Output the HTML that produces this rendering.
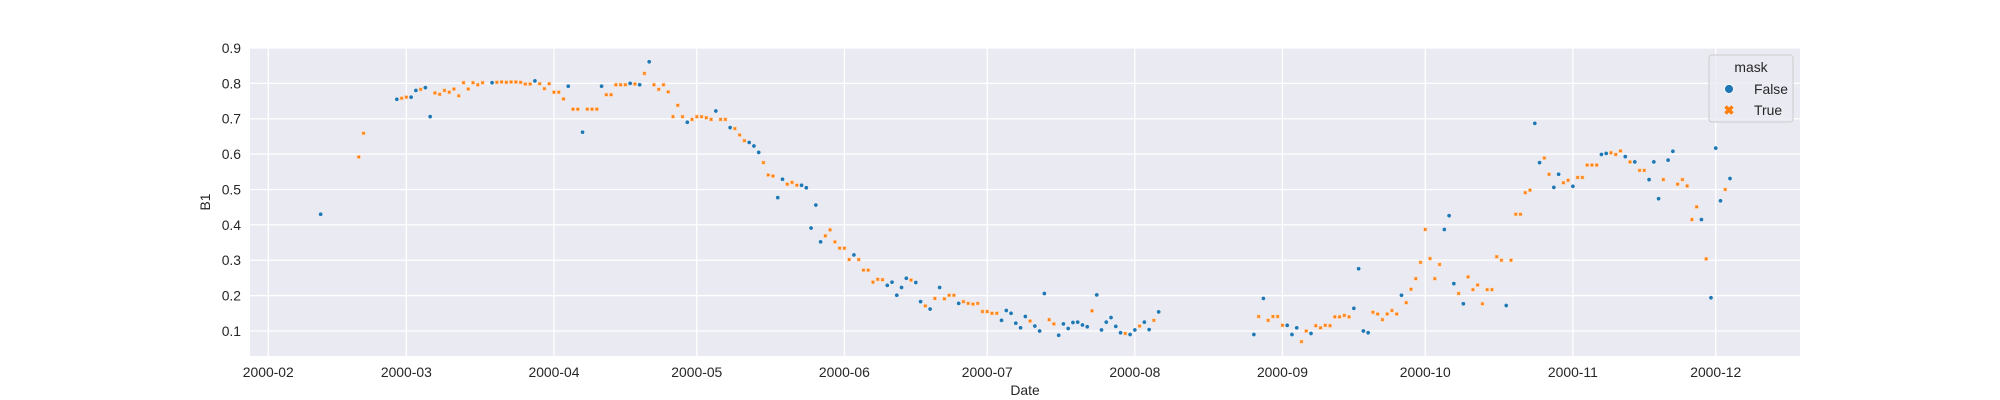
<!DOCTYPE html>
<html><head><meta charset="utf-8"><style>
html,body{margin:0;padding:0;background:#fff;}
svg{display:block;font-family:"Liberation Sans",Arial,sans-serif;}
</style></head><body>
<svg id="chart" width="2000" height="400" viewBox="0 0 2000 400" xmlns="http://www.w3.org/2000/svg"></svg>
<script>
const days=[11,19,20,27,28,29,30,31,32,33,34,35,36,37,38,39,40,41,42,43,44,45,47,48,49,50,51,52,53,54,55,56,57,58,59,60,61,62,63,64,65,66,67,68,69,70,71,72,73,74,75,76,77,78,79,80,81,82,83,84,85,86,87,88,89,90,91,92,93,94,95,96,97,98,99,100,101,102,103,104,105,106,107,108,109,110,111,112,113,114,115,116,117,118,119,120,121,122,123,124,125,126,127,128,129,130,131,132,133,134,135,136,137,138,139,140,141,142,143,144,145,146,147,148,149,150,151,152,153,154,155,156,157,158,159,160,161,162,163,164,165,166,167,168,169,170,171,172,173,174,175,176,177,178,179,180,181,182,183,184,185,186,187,207,208,209,210,211,212,213,214,215,216,217,218,219,220,221,222,223,224,225,226,227,228,229,230,231,232,233,234,235,236,237,238,239,240,241,242,243,244,245,246,247,248,249,250,251,252,253,254,255,256,257,258,259,260,261,262,263,264,265,266,267,268,269,270,271,272,273,274,275,276,277,278,279,280,281,282,283,284,285,286,287,288,289,290,291,292,293,294,295,296,297,298,299,300,301,302,303,304,305,306,307];
const values=[0.43,0.592,0.659,0.755,0.758,0.761,0.761,0.78,0.783,0.788,0.706,0.773,0.769,0.78,0.775,0.784,0.765,0.802,0.784,0.802,0.796,0.802,0.802,0.803,0.804,0.803,0.804,0.804,0.803,0.798,0.798,0.807,0.799,0.785,0.799,0.775,0.775,0.756,0.792,0.727,0.727,0.662,0.727,0.727,0.727,0.792,0.768,0.768,0.796,0.796,0.796,0.8,0.798,0.796,0.828,0.861,0.796,0.783,0.796,0.776,0.706,0.738,0.706,0.69,0.698,0.706,0.706,0.703,0.698,0.722,0.698,0.698,0.675,0.672,0.654,0.638,0.633,0.623,0.605,0.576,0.541,0.538,0.477,0.529,0.515,0.52,0.512,0.512,0.505,0.391,0.456,0.352,0.369,0.386,0.352,0.334,0.334,0.302,0.315,0.302,0.272,0.272,0.238,0.246,0.245,0.229,0.238,0.201,0.223,0.249,0.244,0.237,0.183,0.171,0.162,0.192,0.223,0.191,0.201,0.201,0.178,0.183,0.178,0.176,0.178,0.155,0.155,0.15,0.15,0.13,0.158,0.15,0.122,0.109,0.141,0.128,0.114,0.1,0.206,0.132,0.12,0.088,0.12,0.107,0.124,0.125,0.117,0.112,0.157,0.202,0.103,0.125,0.138,0.113,0.095,0.093,0.09,0.103,0.114,0.125,0.104,0.13,0.154,0.09,0.141,0.192,0.13,0.141,0.141,0.116,0.116,0.09,0.109,0.07,0.1,0.093,0.115,0.109,0.116,0.115,0.14,0.14,0.144,0.14,0.164,0.276,0.1,0.095,0.153,0.148,0.132,0.148,0.158,0.148,0.201,0.18,0.218,0.248,0.294,0.387,0.305,0.248,0.288,0.387,0.426,0.234,0.206,0.177,0.253,0.217,0.23,0.177,0.217,0.217,0.31,0.3,0.172,0.3,0.43,0.43,0.491,0.498,0.687,0.576,0.589,0.543,0.506,0.543,0.519,0.526,0.509,0.534,0.534,0.569,0.569,0.569,0.599,0.602,0.604,0.599,0.609,0.593,0.578,0.578,0.554,0.554,0.528,0.578,0.474,0.528,0.583,0.608,0.515,0.528,0.51,0.415,0.451,0.415,0.304,0.194,0.617,0.468,0.5,0.531];
const masks=[0,1,1,0,1,1,0,0,1,0,0,1,1,1,1,1,1,1,1,1,1,1,0,1,1,1,1,1,1,1,1,0,1,1,1,1,1,1,0,1,1,0,1,1,1,0,1,1,1,1,1,0,1,0,1,0,1,1,1,1,1,1,1,0,1,1,1,1,1,0,1,1,0,1,1,1,0,0,0,1,1,1,0,0,1,1,1,0,0,0,0,0,1,1,1,1,1,1,0,1,1,1,1,1,1,0,0,0,0,0,1,0,0,1,0,1,0,1,1,1,0,1,1,1,1,1,1,1,1,0,0,0,0,0,0,1,0,0,0,1,1,0,0,0,0,0,0,0,1,0,0,0,0,0,0,1,0,0,1,0,0,1,0,0,1,0,1,1,1,1,0,0,0,1,1,0,1,1,1,1,1,1,1,1,0,0,0,0,1,1,1,1,1,1,0,1,1,1,1,1,1,1,1,0,0,0,1,0,1,1,1,1,1,1,1,1,0,1,1,1,1,1,0,0,1,1,0,0,1,1,0,1,1,1,1,1,0,0,1,1,1,0,1,0,1,1,0,0,0,1,0,0,1,1,1,1,1,0,1,0,0,0,1,0];
const xTickDays=[0,29,60,90,121,151,182,213,243,274,304];
const xTickLabels=["2000-02","2000-03","2000-04","2000-05","2000-06","2000-07","2000-08","2000-09","2000-10","2000-11","2000-12"];
const yTicks=[0.1,0.2,0.3,0.4,0.5,0.6,0.7,0.8,0.9];

const L=250,R=1800,T=48,B=356;
const xMin=-3.84,xMax=321.7,yMin=0.0293,yMax=0.9;
const xs=d=>L+(d-xMin)/(xMax-xMin)*(R-L);
const ys=v=>B-(v-yMin)/(yMax-yMin)*(B-T);
const NS="http://www.w3.org/2000/svg";
const svg=document.getElementById('chart');
function mk(tag,attrs,parent){const e=document.createElementNS(NS,tag);for(const k in attrs)e.setAttribute(k,attrs[k]);(parent||svg).appendChild(e);return e;}

const bg=mk('rect',{x:L,y:T,width:R-L,height:B-T,fill:'#EAEAF2'});



const grid=mk('g',{});


yTicks.forEach(v=>{mk('line',{x1:L,x2:R,y1:ys(v),y2:ys(v),stroke:'#fff','stroke-width':1.3},grid);});
xTickDays.forEach(d=>{mk('line',{x1:xs(d),x2:xs(d),y1:T,y2:B,stroke:'#fff','stroke-width':1.3},grid);});

yTicks.forEach(v=>{
  const t=mk('text',{x:L-9,y:ys(v)+5,'text-anchor':'end','font-size':'13.9',fill:'#262626'});
  t.textContent=v.toFixed(1);
  
  
});
xTickDays.forEach((d,i)=>{
  const t=mk('text',{x:xs(d),y:377,'text-anchor':'middle','font-size':'13.9',fill:'#262626'});
  t.textContent=xTickLabels[i];
  
  
});
const xl=mk('text',{x:(L+R)/2,y:395,'text-anchor':'middle','font-size':'13.9',fill:'#262626'});
xl.textContent='Date';


const yl=mk('text',{x:0,y:0,'text-anchor':'middle','font-size':'13.9',fill:'#262626',transform:'translate(210,202) rotate(-90)'});
yl.textContent='B1';



const pts=mk('g',{});


function xMark(cx,cy,s,parent){
  const p=`M${cx-s},${cy-s}L${cx+s},${cy+s}M${cx-s},${cy+s}L${cx+s},${cy-s}`;
  const g=mk('g',{},parent);
  mk('rect',{x:cx-s-0.8,y:cy-s-0.8,width:2*s+1.6,height:2*s+1.6,fill:'#ffd9b8'},g);
  mk('path',{d:p,stroke:'#ff7f0e','stroke-width':1.3},g);
  return g;
}
days.forEach((d,i)=>{
  const cx=xs(d),cy=ys(values[i]);
  let e;
  if(masks[i]){e=xMark(cx,cy,1.2,pts);}
  else{e=mk('circle',{cx:cx,cy:cy,r:2.1,fill:'#1f77b4',stroke:'#fff','stroke-width':0.4},pts);}
  
  
});

const lg=mk('g',{});


mk('rect',{x:1709,y:55,width:84,height:67,rx:3,fill:'#EAEAF2','fill-opacity':0.8,stroke:'#cccccc','stroke-width':1},lg);
const lt=mk('text',{x:1751,y:72,'text-anchor':'middle','font-size':'13.9',fill:'#262626'},lg);
lt.textContent='mask';


const c1=mk('circle',{cx:1729,cy:89,r:4.5,fill:'#1f77b4',stroke:'#fff','stroke-width':0.8},lg);


const t1=mk('text',{x:1754,y:94,'font-size':'13.9',fill:'#262626'},lg);
t1.textContent='False';


const m2=mk('path',{d:'M1725.5,106.5L1732.5,113.5M1725.5,113.5L1732.5,106.5',stroke:'#ff7f0e','stroke-width':3.5},lg);


const t2=mk('text',{x:1754,y:115,'font-size':'13.9',fill:'#262626'},lg);
t2.textContent='True';


</script>
</body></html>
